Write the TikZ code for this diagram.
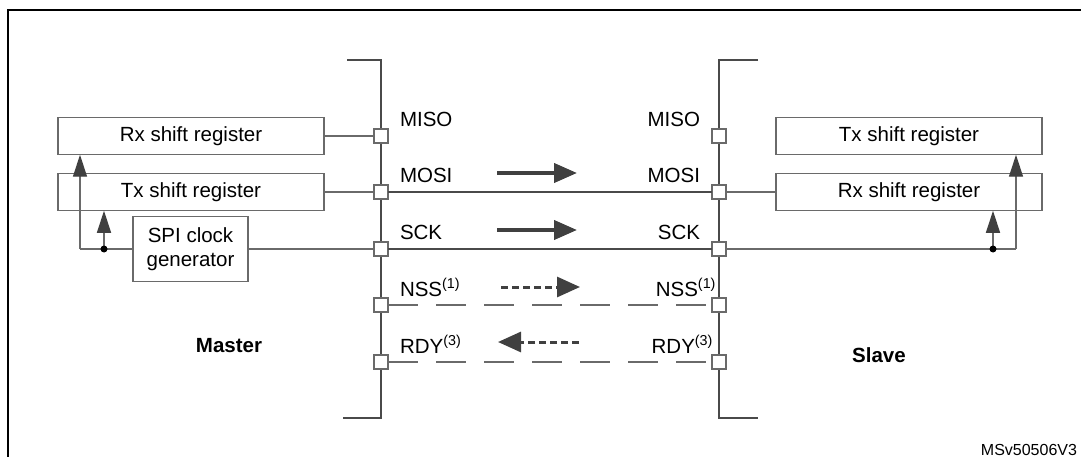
\documentclass[tikz,border=0pt]{standalone}
\usepackage{fontspec}
\setmainfont{Liberation Sans}
\usetikzlibrary{arrows.meta}
\definecolor{linegray}{HTML}{4A4A4A}
\definecolor{boxgray}{HTML}{6A6A6A}
\definecolor{arrowgray}{HTML}{404040}
\begin{document}
\begin{tikzpicture}[x=1pt,y=-1pt,
  every node/.style={font=\fontsize{20.5}{24}\selectfont, inner sep=0pt, outer sep=0pt, text=black},
  regbox/.style={draw=boxgray, line width=1.3pt, fill=white, minimum width=266pt, minimum height=37.5pt, align=center},
  pinbox/.style={draw=boxgray, line width=1.2pt, fill=white, minimum size=14pt},
  bus/.style={draw=linegray, line width=2.7pt},
  sigline/.style={draw=linegray, line width=2pt},
  thinline/.style={draw=boxgray, line width=1.3pt},
  dashline/.style={draw=boxgray, line width=1.6pt, dash pattern=on 30pt off 18pt},
  flowarrow/.style={draw=arrowgray, line width=4pt, -{Triangle[length=23pt,width=19pt]}},
  dflowarrow/.style={draw=arrowgray, line width=3pt, dash pattern=on 7pt off 4pt, -{Triangle[length=23pt,width=20pt]}},
  uparrow/.style={thinline, -{Triangle[length=22pt,width=14pt,fill=arrowgray,color=arrowgray]}},
  siglabel/.style={anchor=base west},
  siglabelr/.style={anchor=base east},
  sidelabel/.style={font=\fontsize{20.5}{24}\selectfont\bfseries}
]
\useasboundingbox (0,0) rectangle (1081,457);
% frame
\draw[black, line width=2.5pt] (8,457) -- (8,10) -- (1081,10);

% bus lines
\coordinate (lbt) at (347,60); \coordinate (lbtc) at (381,60);
\coordinate (lbbc) at (381,418); \coordinate (lbb) at (343,418);
\coordinate (rbt) at (758,60); \coordinate (rbtc) at (719,60);
\coordinate (rbbc) at (719,418); \coordinate (rbb) at (758,418);
\draw[bus] (lbt) -- (lbtc) -- (lbbc) -- (lbb);
\draw[bus] (rbt) -- (rbtc) -- (rbbc) -- (rbb);

% register boxes
\node[regbox] (lrx) at (191,136) {Rx shift register};
\node[regbox] (ltx) at (191,192) {Tx shift register};
\node[regbox, minimum width=115pt, minimum height=65pt, font=\fontsize{20.5}{23.5}\selectfont] (spi) at (190.5,249) {SPI clock\\generator};
\node[regbox] (rtx) at (909,136) {Tx shift register};
\node[regbox] (rrx) at (909,192) {Rx shift register};

% pins
\node[pinbox] (lp1) at (381,136) {};
\node[pinbox] (lp2) at (381,192) {};
\node[pinbox] (lp3) at (381,249) {};
\node[pinbox] (lp4) at (381,305) {};
\node[pinbox] (lp5) at (381,362) {};
\node[pinbox] (rp1) at (719,136) {};
\node[pinbox] (rp2) at (719,192) {};
\node[pinbox] (rp3) at (719,249) {};
\node[pinbox] (rp4) at (719,305) {};
\node[pinbox] (rp5) at (719,362) {};

% connections
\draw[thinline] (lrx.east) -- (lp1.west);
\draw[thinline] (ltx.east) -- (lp2.west);
\draw[sigline] (lp2.east) -- (rp2.west);
\draw[thinline] (rp2.east) -- (rrx.west);
\draw[thinline] (spi.east) -- (lp3.west);
\draw[sigline] (lp3.east) -- (rp3.west);
\draw[dashline] (lp4.east) -- (rp4.west);
\draw[dashline] (lp5.east) -- (rp5.west);

% master clock distribution
\coordinate (lcorner) at (80,249);
\coordinate (ldot) at (104,249);
\draw[thinline] (spi.west) -- (lcorner);
\draw[uparrow] (lcorner) -- (lcorner |- lrx.south);
\draw[uparrow] (ldot) -- (ldot |- ltx.south);
\fill[black] (ldot) circle (3.5pt);

% slave clock distribution
\coordinate (rcorner) at (1016,249);
\coordinate (rdot) at (993,249);
\draw[thinline] (rp3.east) -- (rcorner);
\draw[uparrow] (rcorner) -- (rcorner |- rtx.south);
\draw[uparrow] (rdot) -- (rdot |- rrx.south);
\fill[black] (rdot) circle (3.5pt);

% labels
\node[siglabel] (lmiso) at (400,127) {MISO};
\node[siglabel] (lmosi) at (400,183) {MOSI};
\node[siglabel] (lsck) at (400,240) {SCK};
\node[siglabel] (lnss) at (400,296) {NSS\textsuperscript{(1)}};
\node[siglabel] (lrdy) at (400,353) {RDY\textsuperscript{(3)}};
\node[siglabelr] (rmiso) at (700,127) {MISO};
\node[siglabelr] (rmosi) at (700,183) {MOSI};
\node[siglabelr] (rsck) at (700,240) {SCK};
\node[siglabelr] (rnss) at (716,296) {NSS\textsuperscript{(1)}};
\node[siglabelr] (rrdy) at (713,353) {RDY\textsuperscript{(3)}};

% direction arrows
\coordinate (a1s) at (497,173); \coordinate (a1e) at (577,173);
\coordinate (a2s) at (497,230); \coordinate (a2e) at (577,230);
\coordinate (a3s) at (501,287); \coordinate (a3e) at (580,287);
\coordinate (a4s) at (579,342); \coordinate (a4e) at (498,342);
\draw[flowarrow] (a1s) -- (a1e);
\draw[flowarrow] (a2s) -- (a2e);
\draw[dflowarrow] (a3s) -- (a3e);
\draw[dflowarrow] (a4s) -- (a4e);

% side labels
\node[sidelabel] (master) at (229,346) {Master};
\node[sidelabel] (slave) at (879,355) {Slave};
\node[anchor=base east, font=\fontsize{16}{19}\selectfont] (ref) at (1077,455) {MSv50506V3};
\end{tikzpicture}
\end{document}
